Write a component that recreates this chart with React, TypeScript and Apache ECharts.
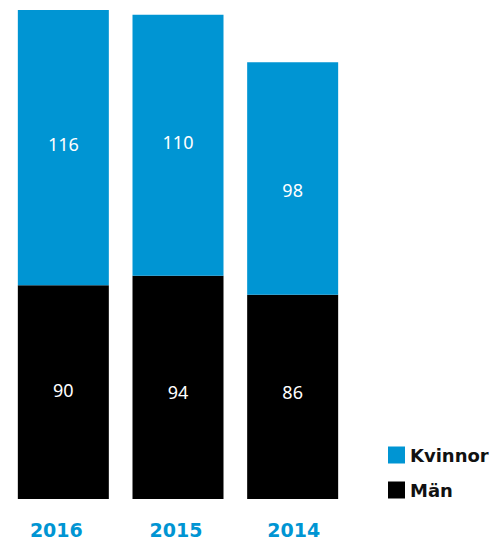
import React, { useEffect, useRef } from "react";
import * as echarts from "echarts";

const categories = ["2016", "2015", "2014"];
const kvinnor = [116, 110, 98];
const man = [90, 94, 86];

// label vertical nudges (px) to match the original placement
const kvinnorLabelOffsets = [-4, -3, 11];
const manLabelOffsets = [-2.5, 4.5, -4.5];
const yearLabelShift = [-7, -2, 1];

const BLUE = "#0095D3";

export default function App() {
  const ref = useRef<HTMLDivElement>(null);
  useEffect(() => {
    if (!ref.current) return;
    const chart = echarts.init(ref.current, null, { renderer: "svg" });
    const labelBase = { show: true, position: "inside", color: "#fff", fontFamily: "Noto Sans", fontSize: 18 };
    const rich: Record<string, any> = {};
    categories.forEach((c, i) => {
      const s = yearLabelShift[i];
      rich["y" + i] = {
        color: BLUE,
        fontFamily: "DejaVu Sans",
        fontWeight: "bold",
        fontSize: 19,
        padding: s < 0 ? [0, -2 * s, 0, 0] : [0, 0, 0, 2 * s],
      };
    });
    chart.setOption({
      animation: false,
      grid: { left: 6, right: 153, top: 10, bottom: 39 },
      legend: {
        orient: "vertical",
        left: 383,
        top: 441,
        itemWidth: 17,
        itemHeight: 17,
        itemGap: 17,
        icon: "rect",
        data: ["Kvinnor", "Män"],
        textStyle: { fontFamily: "DejaVu Sans", fontWeight: "bold", fontSize: 18, color: "#111" },
      },
      xAxis: {
        type: "category",
        data: categories,
        axisLine: { show: false },
        axisTick: { show: false },
        axisLabel: {
          margin: 21,
          formatter: (v: string) => `{y${categories.indexOf(v)}|${v}}`,
          rich,
        },
      },
      yAxis: { type: "value", min: 0, max: 206, show: false, splitLine: { show: false } },
      series: [
        {
          name: "Män",
          type: "bar",
          stack: "a",
          barWidth: 91,
          data: man.map((v, i) => ({ value: v, label: { offset: [0, manLabelOffsets[i]] } })),
          itemStyle: { color: "#000" },
          label: labelBase,
        },
        {
          name: "Kvinnor",
          type: "bar",
          stack: "a",
          barWidth: 91,
          data: kvinnor.map((v, i) => ({ value: v, label: { offset: [0, kvinnorLabelOffsets[i]] } })),
          itemStyle: { color: BLUE },
          label: labelBase,
        },
      ],
    });
    return () => chart.dispose();
  }, []);
  return <div ref={ref} style={{ width: 503, height: 539, position: "absolute", left: 0, top: 0 }} />;
}
